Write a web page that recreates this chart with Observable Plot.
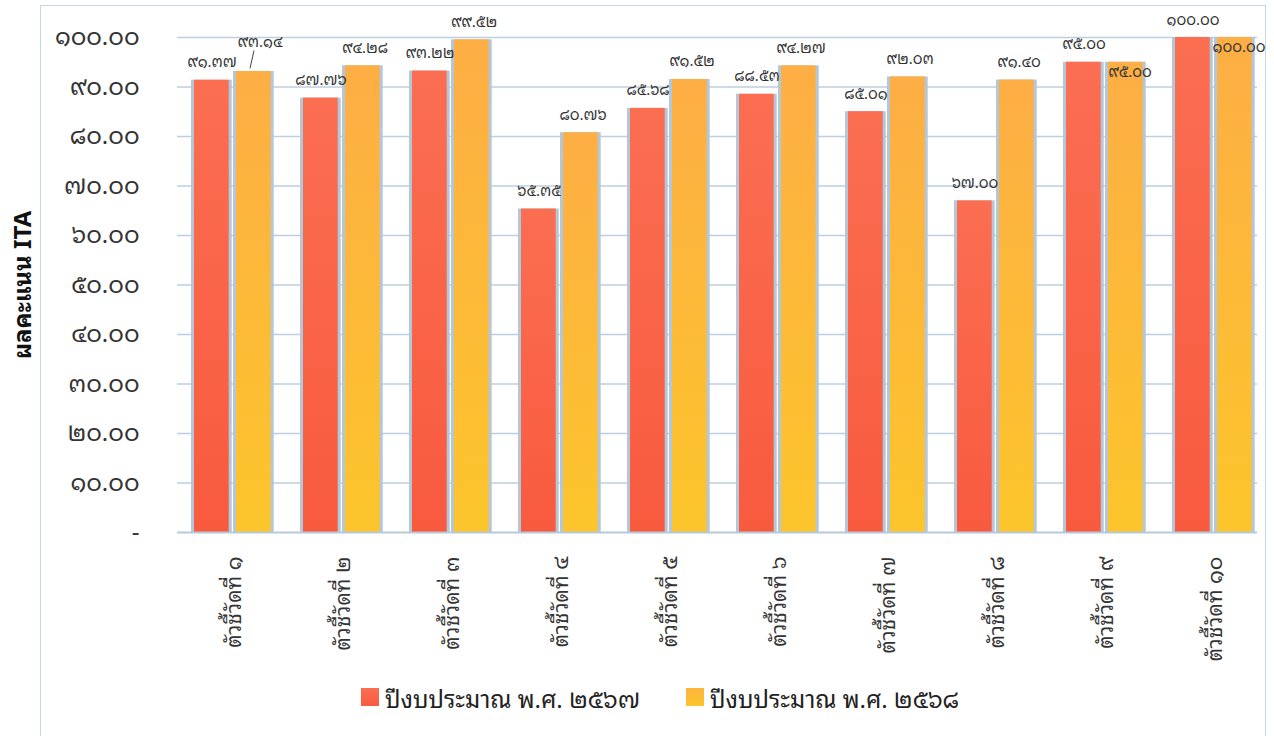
<!DOCTYPE html>
<html>
<head>
<meta charset="utf-8">
<script src="https://cdn.jsdelivr.net/npm/d3@7"></script>
<script src="https://cdn.jsdelivr.net/npm/@observablehq/plot@0.6"></script>
<style>
  html, body { margin: 0; padding: 0; background: #fff; }
  #wrap { position: relative; width: 1274px; height: 736px; overflow: hidden; background: #fff;
          font-family: "Noto Sans Thai Looped", "Loma", "Garuda", "Tlwg Typo", "Noto Sans Thai", "Noto Sans", "DejaVu Sans", sans-serif; }
  #frame { position: absolute; left: 40px; top: 5px; width: 1226px; height: 760px;
           border: 1.5px solid #c9d5e2; box-sizing: border-box; }
  #chart { position: absolute; left: 0; top: 0; }
  #legend { position: absolute; left: 0; top: 678px; width: 1274px; display: flex; justify-content: center;
            padding-left: 46px; box-sizing: border-box; gap: 46px; font-size: 24px; color: #222; }
  .item { display: flex; align-items: center; gap: 6px; }
  .sw { width: 18px; height: 18px; display: inline-block; }
  g[aria-label="y-axis label"] text { font-size: 24px; font-weight: bold; fill: #111; }
</style>
</head>
<body>
<div id="wrap">
  <div id="frame"></div>
  <div id="chart"></div>
  <div id="legend"></div>
</div>
<script>
// ---- data ----
const categories = ["ตัวชี้วัดที่ ๑", "ตัวชี้วัดที่ ๒", "ตัวชี้วัดที่ ๓", "ตัวชี้วัดที่ ๔", "ตัวชี้วัดที่ ๕",
                    "ตัวชี้วัดที่ ๖", "ตัวชี้วัดที่ ๗", "ตัวชี้วัดที่ ๘", "ตัวชี้วัดที่ ๙", "ตัวชี้วัดที่ ๑๐"];
const seriesNames = ["ปีงบประมาณ พ.ศ. ๒๕๖๗", "ปีงบประมาณ พ.ศ. ๒๕๖๘"];
const values2567 = [91.37, 87.76, 93.22, 65.35, 85.68, 88.53, 85.01, 67.00, 95.00, 100.00];
const values2568 = [93.14, 94.28, 99.52, 80.76, 91.52, 94.27, 92.03, 91.40, 95.00, 100.00];
const yTicks = [0, 10, 20, 30, 40, 50, 60, 70, 80, 90, 100];
const yTitle = "ผลคะแนน ITA";

// ---- helpers ----
const thaiDigits = "๐๑๒๓๔๕๖๗๘๙";
const thai = s => String(s).replace(/[0-9]/g, d => thaiDigits[+d]);
const fmt = v => thai(v.toFixed(2));

const rowsA = categories.map((c, i) => ({cat: c, value: values2567[i], other: values2568[i]}));
const rowsB = categories.map((c, i) => ({cat: c, value: values2568[i], other: values2567[i]}));
const diff = d => Math.abs(d.value - d.other);
const bSame = rowsB.filter(d => diff(d) < 1);                 // equal heights: label tucked under the top
const bNear = rowsB.filter(d => diff(d) >= 1 && diff(d) < 4); // close: label lifted, with leader
const bFar = rowsB.filter(d => diff(d) >= 4);

const W = 1274, H = 665;
const mL = 177, mR = 4;
const bw = (W - mL - mR) / categories.length;
const redIn = [15, bw - 50];
const orgIn = [57, bw - 92];
const FONT = "'Noto Sans Thai Looped', Loma, Garuda, 'Tlwg Typo', 'Noto Sans Thai', 'Noto Sans', 'DejaVu Sans', sans-serif";

const plot = Plot.plot({
  width: W,
  height: H,
  marginLeft: mL,
  marginRight: mR,
  marginTop: 37,
  marginBottom: H - 532,
  style: {fontFamily: FONT, color: "#333", background: "transparent", overflow: "visible"},
  x: {domain: categories, padding: 0},
  y: {domain: [0, 100]},
  marks: [
    Plot.ruleY(yTicks.filter(d => d > 0), {stroke: "#bccee0", strokeWidth: 1.5, insetRight: 13}),
    Plot.axisY({ticks: yTicks, tickFormat: d => d === 0 ? "-" : fmt(d), tickSize: 0, tickPadding: 38,
                fontSize: 24, label: yTitle, labelAnchor: "center", labelArrow: "none", labelOffset: 164}),
    Plot.axisX({tickRotate: -90, tickSize: 0, tickPadding: 24, fontSize: 21, label: null}),
    // bar shadows
    Plot.barY(rowsA, {x: "cat", y: "value", fill: "#b3c7d9", insetLeft: redIn[0] - 3, insetRight: redIn[1] - 3}),
    Plot.barY(rowsB, {x: "cat", y: "value", fill: "#b3c7d9", insetLeft: orgIn[0] - 3, insetRight: orgIn[1] - 3}),
    // bars
    Plot.barY(rowsA, {x: "cat", y: "value", fill: "url(#gRed)", insetLeft: redIn[0], insetRight: redIn[1]}),
    Plot.barY(rowsB, {x: "cat", y: "value", fill: "url(#gOrg)", insetLeft: orgIn[0], insetRight: orgIn[1]}),
    Plot.ruleY([0], {stroke: "#b7c8d9", strokeWidth: 2, insetRight: 13}),
    // value labels
    Plot.text(rowsA, {x: "cat", y: "value", text: d => fmt(d.value), dx: -22, dy: -13, lineAnchor: "bottom",
                      fontSize: 15, fill: "#333"}),
    Plot.text(bFar, {x: "cat", y: "value", text: d => fmt(d.value),
                     dx: 22, dy: -13, lineAnchor: "bottom", fontSize: 15, fill: "#333"}),
    Plot.text(bNear, {x: "cat", y: "value", text: d => fmt(d.value),
                      dx: 26, dy: -24, lineAnchor: "bottom", fontSize: 15, fill: "#333"}),
    Plot.link(bNear, {x1: "cat", x2: "cat", y1: "value", y2: "value", dx: 18, dy: -3,
                      stroke: "#444", strokeWidth: 1}),
    Plot.text(bSame, {x: "cat", y: "value", text: d => fmt(d.value),
                      dx: 24, dy: 4, lineAnchor: "top", fontSize: 15, fill: "#333"})
  ]
});

// leader lines for lifted labels (short strokes from the bar up to the label)
plot.querySelectorAll('g[aria-label="link"] path').forEach(p => {
  const m = p.getAttribute("d").match(/M([\d.]+),([\d.]+)/);
  if (m) {
    const x = +m[1], y = +m[2];
    p.setAttribute("d", `M${x - 2},${y}L${x + 2},${y - 18}`);
  }
});

// gradients for the bars
const ns = "http://www.w3.org/2000/svg";
const defs = document.createElementNS(ns, "defs");
defs.innerHTML = `
  <linearGradient id="gRed" x1="0" y1="0" x2="0" y2="1">
    <stop offset="0" stop-color="#fb6e52"/><stop offset="1" stop-color="#f85a3e"/>
  </linearGradient>
  <linearGradient id="gOrg" x1="0" y1="0" x2="0" y2="1">
    <stop offset="0" stop-color="#fdae45"/><stop offset="1" stop-color="#fcc52b"/>
  </linearGradient>`;
plot.insertBefore(defs, plot.firstChild);
document.getElementById("chart").appendChild(plot);

// legend
const legendColors = ["linear-gradient(#fb6e52,#f85a3e)", "linear-gradient(#fdb33f,#fcc52b)"];
const legend = document.getElementById("legend");
seriesNames.forEach((name, i) => {
  const item = document.createElement("div");
  item.className = "item";
  const sw = document.createElement("span");
  sw.className = "sw";
  sw.style.background = legendColors[i];
  const t = document.createElement("span");
  t.textContent = name;
  item.appendChild(sw);
  item.appendChild(t);
  legend.appendChild(item);
});
</script>
</body>
</html>
